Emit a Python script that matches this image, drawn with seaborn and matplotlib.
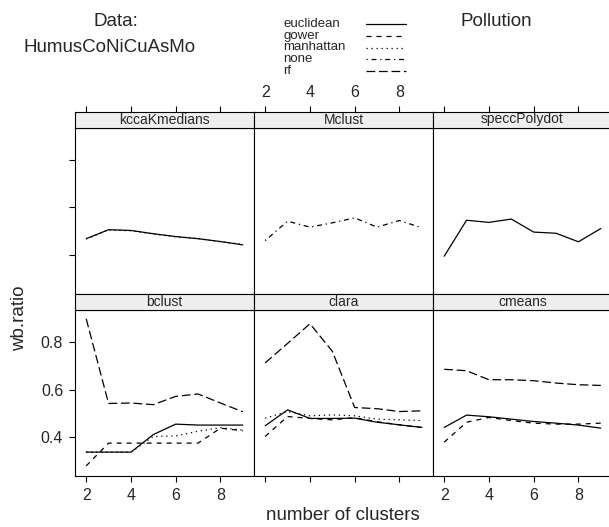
import pandas as pd
import seaborn as sns
import matplotlib.pyplot as plt
from matplotlib.lines import Line2D

# Data
# -----------------------------------------------------------------------
n_clusters = [2, 3, 4, 5, 6, 7, 8, 9]
panels = ["kccaKmedians", "Mclust", "speccPolydot", "bclust", "clara", "cmeans"]
methods = ["euclidean", "gower", "manhattan", "none", "rf"]

kcca_euclidean = [0.468, 0.506, 0.503, 0.489, 0.477, 0.468, 0.456, 0.442]
kcca_manhattan = [0.467, 0.505, 0.501, 0.488, 0.476, 0.469, 0.455, 0.444]
mclust_none = [0.460, 0.542, 0.517, 0.535, 0.556, 0.517, 0.545, 0.514]
specc_euclidean = [0.394, 0.546, 0.537, 0.551, 0.496, 0.491, 0.455, 0.511]
bclust_euclidean = [0.337, 0.337, 0.337, 0.411, 0.455, 0.451, 0.451, 0.451]
bclust_gower = [0.279, 0.375, 0.375, 0.375, 0.375, 0.375, 0.438, 0.427]
bclust_manhattan = [0.337, 0.337, 0.337, 0.403, 0.405, 0.425, 0.440, 0.430]
bclust_rf = [0.899, 0.542, 0.544, 0.537, 0.572, 0.582, 0.544, 0.507]
clara_euclidean = [0.448, 0.515, 0.479, 0.479, 0.480, 0.463, 0.452, 0.441]
clara_gower = [0.403, 0.487, 0.479, 0.473, 0.482, 0.465, 0.452, 0.441]
clara_manhattan = [0.480, 0.508, 0.490, 0.494, 0.490, 0.476, 0.473, 0.470]
clara_rf = [0.713, 0.795, 0.878, 0.762, 0.525, 0.520, 0.508, 0.511]
cmeans_euclidean = [0.441, 0.493, 0.486, 0.476, 0.466, 0.459, 0.451, 0.438]
cmeans_gower = [0.379, 0.463, 0.483, 0.470, 0.459, 0.455, 0.455, 0.459]
cmeans_rf = [0.686, 0.680, 0.642, 0.642, 0.638, 0.628, 0.621, 0.618]

series = {
    ("kccaKmedians", "manhattan"): kcca_manhattan,
    ("kccaKmedians", "euclidean"): kcca_euclidean,
    ("Mclust", "none"): mclust_none,
    ("speccPolydot", "euclidean"): specc_euclidean,
    ("bclust", "euclidean"): bclust_euclidean,
    ("bclust", "gower"): bclust_gower,
    ("bclust", "manhattan"): bclust_manhattan,
    ("bclust", "rf"): bclust_rf,
    ("clara", "euclidean"): clara_euclidean,
    ("clara", "gower"): clara_gower,
    ("clara", "manhattan"): clara_manhattan,
    ("clara", "rf"): clara_rf,
    ("cmeans", "euclidean"): cmeans_euclidean,
    ("cmeans", "gower"): cmeans_gower,
    ("cmeans", "rf"): cmeans_rf,
}

rows = []
for (panel, method), vals in series.items():
    for k, v in zip(n_clusters, vals):
        rows.append({"panel": panel, "method": method, "k": k, "ratio": v})
df = pd.DataFrame(rows)

# Style
# -----------------------------------------------------------------------
sns.set_style("white")
plt.rcParams["font.family"] = ["Liberation Sans", "DejaVu Sans"]

dashes = {"euclidean": "", "gower": (4, 4), "manhattan": (1, 3),
          "none": (1, 3, 4, 3), "rf": (7, 3)}

W, H = 609, 527
def box(x0, y0, x1, y1):
    # pixel box (from top-left) -> figure fraction rect
    return [x0 / W, 1 - y1 / H, (x1 - x0) / W, (y1 - y0) / H]

col_x = [75, 254, 433]
col_w = 179
row_y = [(111.5, 127.5, 293.5), (293.5, 309.5, 476)]
xlim = (1.5, 9.5)
ylim = (0.2364, 0.938)

fig = plt.figure(figsize=(W / 100, H / 100), dpi=100)

for i, panel in enumerate(panels):
    r, c = divmod(i, 3)
    s_top, p_top, p_bot = row_y[r]
    x0 = col_x[c]

    ax = fig.add_axes(box(x0, p_top, x0 + col_w, p_bot))
    sub = df[df["panel"] == panel]
    sns.lineplot(data=sub, x="k", y="ratio", style="method", dashes=dashes,
                 color="black", linewidth=0.9, legend=False, ax=ax,
                 estimator=None, sort=False)
    ax.set_xlim(xlim)
    ax.set_ylim(ylim)
    ax.set_xlabel("")
    ax.set_ylabel("")
    ax.set_xticks([2, 4, 6, 8])
    ax.set_yticks([0.4, 0.6, 0.8])
    for sp in ax.spines.values():
        sp.set_visible(True)
        sp.set_color("black")
        sp.set_linewidth(0.8)
    ax.tick_params(direction="out", length=4.5, width=0.8, color="black",
                   labelsize=11.5, pad=4,
                   bottom=(r == 1), top=False, left=(c == 0), right=False,
                   labelbottom=(r == 1 and c != 1), labelleft=(r == 1 and c == 0))

    # strip on top of each panel
    sax = fig.add_axes(box(x0, s_top, x0 + col_w, p_top))
    sax.set_facecolor("#eeeeee")
    sax.set_xlim(xlim)
    sax.set_ylim(0, 1)
    sax.set_yticks([])
    sax.set_xticks([2, 4, 6, 8])
    for sp in sax.spines.values():
        sp.set_visible(True)
        sp.set_color("black")
        sp.set_linewidth(0.8)
    sax.tick_params(direction="out", length=4.5, width=0.8, color="black",
                    labelsize=11.5, pad=4, left=False,
                    bottom=False, labelbottom=False,
                    top=(r == 0), labeltop=(r == 0 and c == 1))
    sax.text(0.5, 0.5, panel, transform=sax.transAxes, ha="center",
             va="center", fontsize=10)

# Titles and key
# -----------------------------------------------------------------------
fig.text(116 / W, 1 - 21 / H, "Data:", ha="center", va="center", fontsize=13.5)
fig.text(110 / W, 1 - 47 / H, "HumusCoNiCuAsMo", ha="center", va="center", fontsize=13.5)
fig.text(496 / W, 1 - 21 / H, "Pollution", ha="center", va="center", fontsize=13.5)

leg_y = [24, 35.75, 47.5, 59.25, 71]
for m, y in zip(methods, leg_y):
    fig.text(283 / W, 1 - y / H, m, ha="left", va="center", fontsize=9.5)
    ln = Line2D([366 / W, 406 / W], [1 - y / H, 1 - y / H],
                transform=fig.transFigure, color="black", linewidth=0.9)
    if dashes[m]:
        ln.set_dashes(dashes[m])
    fig.add_artist(ln)

fig.text(20 / W, 1 - 318 / H, "wb.ratio", rotation=90, ha="center",
         va="center", fontsize=13.5)
fig.text(343 / W, 1 - 515 / H, "number of clusters", ha="center",
         va="center", fontsize=13.5)

plt.savefig("out.png", dpi=100)
